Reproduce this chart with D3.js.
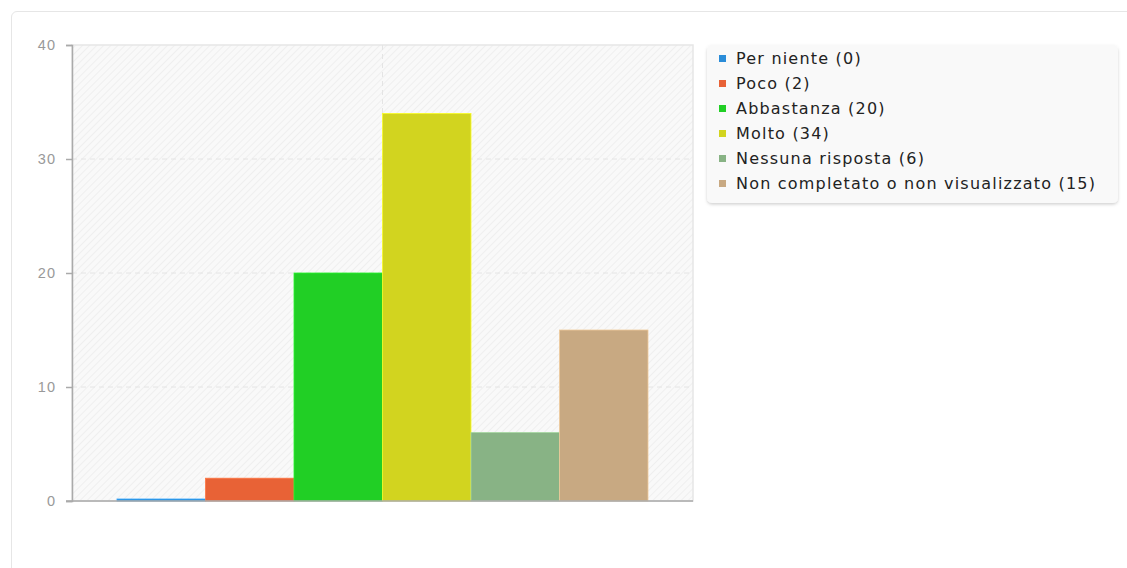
<!DOCTYPE html>
<meta charset="utf-8">
<style>
body { margin: 0; background: #fff; font-family: "DejaVu Sans", sans-serif; }
.panel { position: absolute; left: 11px; top: 11px; width: 1140px; height: 600px;
  border: 1px solid #e6e6e6; border-radius: 6px; background: #fff; }
.axis text { fill: #999; font-size: 14.5px; letter-spacing: 1px; }
.grid line { stroke: #e4e4e4; stroke-dasharray: 5,4; }
</style>
<body>
<div class="panel"></div>
<script src="https://d3js.org/d3.v7.min.js"></script>
<script>
var categories = ["Per niente", "Poco", "Abbastanza", "Molto", "Nessuna risposta", "Non completato o non visualizzato"];
var values = [0, 2, 20, 34, 6, 15];
var colors = ["#2a8cd8", "#e86236", "#21cf25", "#d2d41f", "#88b385", "#c8a982"];
var yTicks = [0, 10, 20, 30, 40];

var W = 1127, H = 568;
var plot = {left: 72, top: 45, right: 693, bottom: 501};

var svg = d3.select("body").append("svg")
  .attr("width", W).attr("height", H)
  .style("position", "absolute").style("left", 0).style("top", 0);

var defs = svg.append("defs");
var pat = defs.append("pattern")
  .attr("id", "hatch").attr("patternUnits", "userSpaceOnUse")
  .attr("width", 5).attr("height", 5)
  .attr("patternTransform", "rotate(45)");
pat.append("rect").attr("width", 5).attr("height", 5).attr("fill", "#f9f9f9");
pat.append("line").attr("x1", 0).attr("y1", 0).attr("x2", 0).attr("y2", 5)
  .attr("stroke", "#ececec").attr("stroke-width", 1.5);

var shadow = defs.append("filter").attr("id", "shadow")
  .attr("x", "-5%").attr("y", "-5%").attr("width", "110%").attr("height", "120%");
shadow.append("feDropShadow").attr("dx", 0).attr("dy", 1.5).attr("stdDeviation", 1.5)
  .attr("flood-color", "#000").attr("flood-opacity", 0.18);

var y = d3.scaleLinear().domain([0, 40]).range([plot.bottom, plot.top]);
var x = d3.scaleBand().domain(categories)
  .range([117, 648]).paddingInner(0).paddingOuter(0);

// plot background
svg.append("rect")
  .attr("x", plot.left).attr("y", plot.top)
  .attr("width", plot.right - plot.left).attr("height", plot.bottom - plot.top)
  .attr("fill", "url(#hatch)")
  .attr("stroke", "#e6e6e6").attr("stroke-width", 1.5);

// grid
var grid = svg.append("g").attr("class", "grid");
grid.selectAll(".h").data(yTicks.filter(function(d) { return d > 0 && d < 40; }))
  .enter().append("line")
  .attr("x1", plot.left).attr("x2", plot.right)
  .attr("y1", function(d) { return y(d); }).attr("y2", function(d) { return y(d); });
grid.append("line")
  .attr("x1", (plot.left + plot.right) / 2).attr("x2", (plot.left + plot.right) / 2)
  .attr("y1", plot.top).attr("y2", plot.bottom);

// bars
svg.append("g").selectAll("rect").data(values).enter().append("rect")
  .attr("x", function(d, i) { return x(categories[i]); })
  .attr("width", x.bandwidth())
  .attr("y", function(d) { return Math.min(y(d), plot.bottom - 2); })
  .attr("height", function(d) { return Math.max(plot.bottom - y(d), 2); })
  .attr("fill", function(d, i) { return colors[i]; })
  .attr("stroke", function(d, i) { return d3.color(colors[i]).brighter(0.5); })
  .attr("stroke-width", 0.8);

// y axis
var yAxis = svg.append("g").attr("class", "axis")
  .attr("transform", "translate(" + plot.left + ",0)")
  .call(d3.axisLeft(y).tickValues(yTicks).tickSize(6).tickPadding(10));
yAxis.select(".domain").attr("stroke", "#aaa").attr("stroke-width", 1.5);
yAxis.selectAll(".tick line").attr("stroke", "#aaa").attr("stroke-width", 1.5);

// x axis line
svg.append("line")
  .attr("x1", plot.left - 6).attr("x2", plot.right)
  .attr("y1", plot.bottom).attr("y2", plot.bottom)
  .attr("stroke", "#aaa").attr("stroke-width", 1.5);

// legend
var lg = svg.append("g").attr("transform", "translate(707,45)");
lg.append("rect").attr("width", 411).attr("height", 158).attr("rx", 5)
  .attr("fill", "#f9f9f9").attr("filter", "url(#shadow)");
var items = lg.selectAll(".item").data(categories).enter().append("g")
  .attr("transform", function(d, i) { return "translate(0," + (13 + i * 25) + ")"; });
items.append("rect").attr("x", 12).attr("y", -3).attr("width", 7).attr("height", 7)
  .attr("fill", function(d, i) { return colors[i]; });
items.append("text").attr("x", 29).attr("y", 0).attr("dy", "0.36em")
  .attr("font-size", 16).attr("fill", "#222")
  .style("letter-spacing", "1.2px")
  .text(function(d, i) { return d + " (" + values[i] + ")"; });
</script>
</body>
